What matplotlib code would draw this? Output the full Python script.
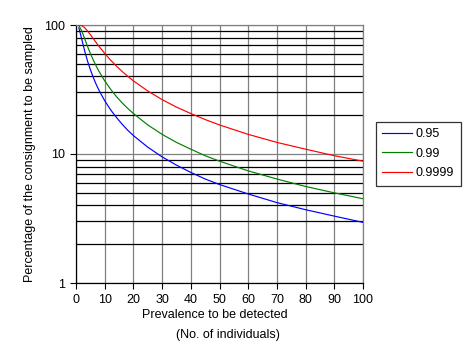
import numpy as np
import matplotlib
matplotlib.use('Agg')
from matplotlib import pyplot as plt
from matplotlib.ticker import FixedLocator, NullFormatter

# Prevalence (number of infested individuals in the consignment)
prevalence = [1, 2, 3, 4, 5, 6, 7, 8, 10, 12, 14, 16, 18, 20, 25, 30, 35, 40, 45, 50,
              60, 70, 80, 90, 100]

# Percentage of the consignment to be sampled, one list per confidence level
conf_95 = [95, 77.6, 63.2, 52.7, 45.1, 39.3, 34.8, 31.2, 25.9, 22.1, 19.3, 17.1, 15.3, 13.9,
           11.3, 9.5, 8.2, 7.2, 6.4, 5.8, 4.9, 4.2, 3.7, 3.3, 2.95]
conf_99 = [99, 90, 78.5, 68.4, 60.2, 53.6, 48.2, 43.8, 36.9, 31.9, 28.0, 25.0, 22.6, 20.6,
           16.8, 14.2, 12.3, 10.9, 9.7, 8.8, 7.4, 6.4, 5.6, 5.0, 4.5]
conf_9999 = [99.99, 99, 95.4, 90, 84.2, 78.5, 73.2, 68.4, 60.2, 53.6, 48.2, 43.8, 40.1, 36.9,
             30.8, 26.4, 23.1, 20.6, 18.5, 16.8, 14.2, 12.3, 10.9, 9.7, 8.8]

series_labels = ['0.95', '0.99', '0.9999']
series_colors = ['#0000ff', '#008000', '#ff0000']

plt.rcParams['font.family'] = ['Liberation Sans', 'DejaVu Sans']

fig = plt.figure(figsize=(4.76, 3.53), dpi=100)
ax = fig.add_axes([76 / 476, 70 / 353, 287 / 476, 258 / 353])

for values, label, color in zip([conf_95, conf_99, conf_9999], series_labels, series_colors):
    ax.plot(prevalence, values, color=color, lw=0.85, label=label, zorder=3)

ax.set_yscale('log')
ax.set_ylim(1, 100)
ax.set_xlim(0, 100)

ax.set_xticks(np.arange(0, 101, 10))
ax.yaxis.set_major_locator(FixedLocator([1, 10, 100]))
ax.set_yticklabels(['1', '10', '100'])
ax.yaxis.set_minor_locator(FixedLocator([2, 3, 4, 5, 6, 7, 8, 9, 20, 30, 40, 50, 60, 70, 80, 90]))
ax.yaxis.set_minor_formatter(NullFormatter())

# gray major grid, black minor horizontal grid (Excel style)
ax.grid(True, which='major', color='#808080', lw=0.9, zorder=1)
ax.grid(True, which='minor', axis='y', color='black', lw=0.9, zorder=1)
ax.tick_params(which='minor', length=0)
ax.tick_params(which='major', direction='out', length=4, width=0.8, labelsize=9, pad=4)

ax.spines['top'].set_color('#808080')
ax.spines['right'].set_color('#808080')
for s in ['left', 'bottom']:
    ax.spines[s].set_color('black')
    ax.spines[s].set_linewidth(0.9)
for s in ['top', 'right']:
    ax.spines[s].set_linewidth(0.9)

ax.set_ylabel('Percentage of the consignment to be sampled', fontsize=9, labelpad=6)
fig.text(215 / 476, 1 - 315 / 353, 'Prevalence to be detected', ha='center', va='center', fontsize=9)
fig.text(228 / 476, 1 - 335 / 353, '(No. of individuals)', ha='center', va='center', fontsize=9)

leg = fig.legend(loc='upper left', bbox_to_anchor=(376 / 476, 1 - 122 / 353), fontsize=9,
                 frameon=True, fancybox=False, edgecolor='black', handlelength=2.4,
                 handletextpad=0.3, labelspacing=0.6, borderpad=0.5, borderaxespad=0)
leg.get_frame().set_linewidth(0.9)

fig.savefig('out.png', dpi=100)
